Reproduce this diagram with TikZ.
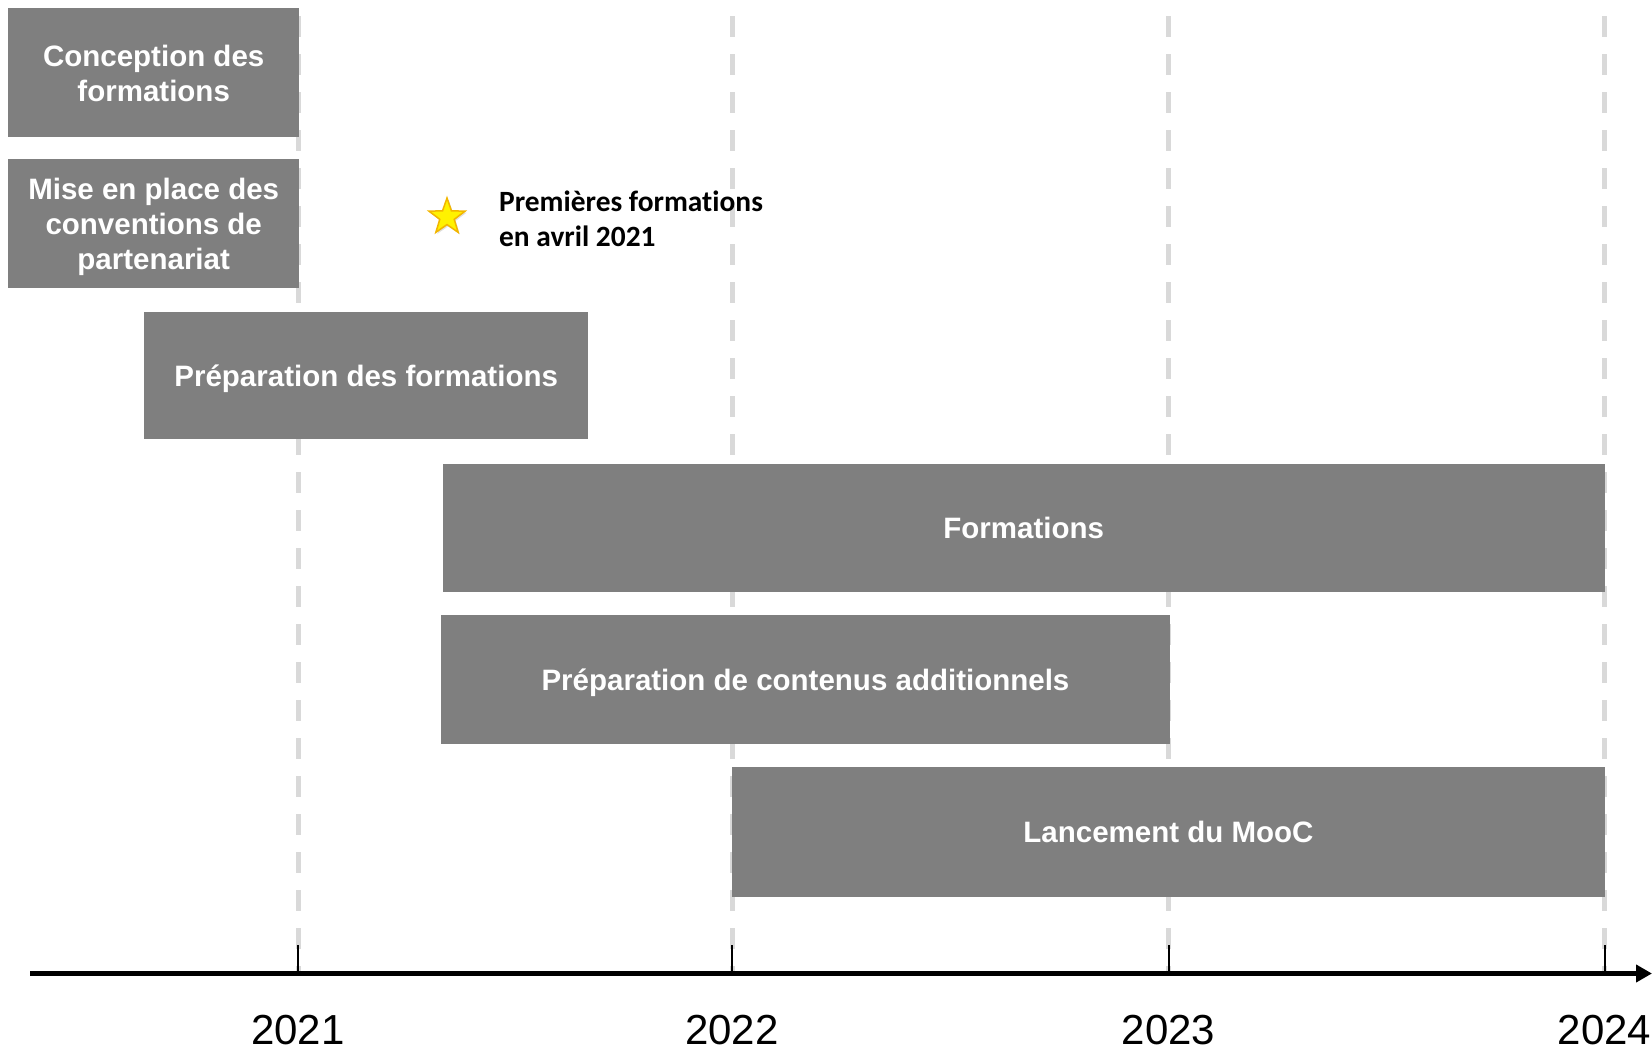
\documentclass[tikz,border=0pt]{standalone}
\usepackage{fontspec}
\setmainfont{Liberation Sans}
\newfontfamily\calib[Ligatures=NoCommon]{Carlito}
\usetikzlibrary{arrows.meta,shapes.geometric,shadows}
\definecolor{boxgray}{HTML}{7F7F7F}
\definecolor{dashgray}{HTML}{D9D9D9}
\definecolor{stargold}{HTML}{F2B600}
\definecolor{staryellow}{HTML}{FFF200}
\tikzset{
  taskbox/.style={fill=boxgray, draw=none, anchor=north west, inner sep=0pt},
  boxtext/.style={text=white, font=\bfseries\fontsize{29.5}{35}\selectfont,
    align=center, inner sep=0pt},
  yearline/.style={draw=dashgray, line width=5pt, dash pattern=on 21pt off 17pt},
  yearlabel/.style={font=\fontsize{42}{50}\selectfont, inner sep=0pt},
  ticktrait/.style={draw=black, line width=2pt},
}
\begin{document}
\begin{tikzpicture}[x=1pt, y=-1pt]
\useasboundingbox (0,0) rectangle (1652,1052);
% year guide lines
\foreach \n/\x in {a/298, b/732, c/1168.5, d/1604.6} {
  \coordinate (top\n) at (\x,16);
  \coordinate (bot\n) at (\x,971);
  \coordinate (tk\n) at (\x,945);
  \coordinate (ax\n) at (\x,973.5);
  \draw[yearline] (top\n) -- (bot\n);
}
% task boxes
\node[taskbox, minimum width=291pt, minimum height=129pt] (conc) at (8,8) {};
\node[taskbox, minimum width=291pt, minimum height=129pt] (conv) at (8,159) {};
\node[taskbox, minimum width=444pt, minimum height=127pt] (prep) at (144,312) {};
\node[taskbox, minimum width=1162pt, minimum height=128.5pt] (form) at (442.5,463.5) {};
\node[taskbox, minimum width=728.5pt, minimum height=129pt] (cont) at (441,615) {};
\node[taskbox, minimum width=872.6pt, minimum height=129.5pt] (mooc) at (732,767) {};
\node[boxtext] (conct) at ([yshift=-1pt]conc.center) {Conception des\\formations};
\node[boxtext] (convt) at ([yshift=-3pt]conv.center) {Mise en place des\\conventions de\\partenariat};
\node[boxtext] (prept) at ([yshift=-3pt]prep.center) {Préparation des formations};
\node[boxtext] (formt) at (form.center) {Formations};
\node[boxtext] (contt) at ([yshift=-3pt]cont.center) {Préparation de contenus additionnels};
\node[boxtext] (mooct) at (mooc.center) {Lancement du MooC};
% star milestone
\node[star, star points=5, star point ratio=2.5, minimum size=38pt, inner sep=0pt,
  fill=staryellow, draw=stargold, line width=1.5pt,
  drop shadow={opacity=0.25, shadow xshift=1.5pt, shadow yshift=-1.5pt}] (star) at (447,217) {};
\node[anchor=west, align=left, inner sep=0pt, font=\calib\bfseries\fontsize{29.4}{35.5}\selectfont] (miltext) at (499,219) {Premières formations\\en avril 2021};
% axis
\coordinate (axstart) at (30,973.5);
\coordinate (axend) at (1652,973.5);
\draw[line width=5pt, -{Triangle[length=16pt,width=17pt]}] (axstart) -- (axend);
\foreach \n in {a,b,c,d} { \draw[ticktrait] (tk\n) -- (ax\n); }
% year labels
\node[yearlabel] (y21) at (298,1030) {2021};
\node[yearlabel] (y22) at (732,1030) {2022};
\node[yearlabel] (y23) at (1168.5,1030) {2023};
\node[yearlabel] (y24) at (1604.6,1030) {2024};
\end{tikzpicture}
\end{document}
